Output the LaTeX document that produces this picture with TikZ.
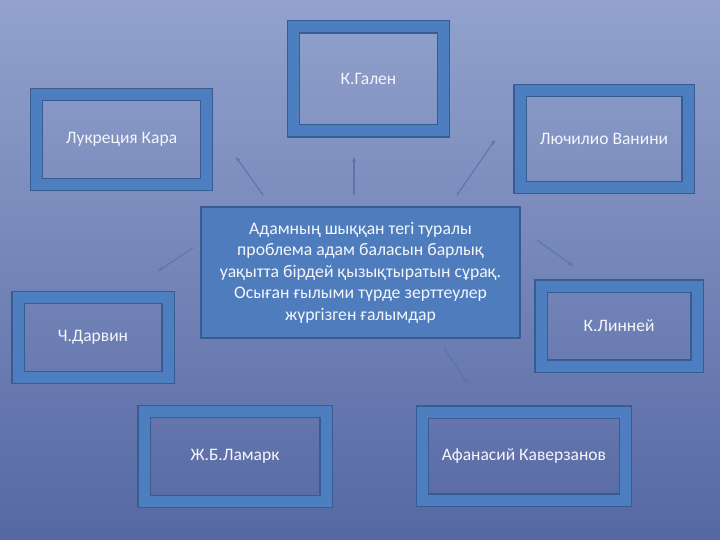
\documentclass[tikz,border=0pt]{standalone}
\usepackage{fontspec}
\setmainfont{Carlito}
\usetikzlibrary{arrows.meta}
\definecolor{bgtop}{RGB}{146,162,205}
\definecolor{bgbot}{RGB}{86,104,163}
\definecolor{band}{RGB}{76,126,192}
\definecolor{edge}{RGB}{56,92,145}
\definecolor{ctr}{RGB}{78,124,188}
\definecolor{txt}{RGB}{244,246,252}
\definecolor{conn}{RGB}{96,116,172}
\tikzset{
  namebox/.style={draw=edge, line width=1.3pt, double=band, double distance=11pt,
    inner sep=0pt, text=txt, font=\fontsize{17.5}{21}\selectfont},
  mainbox/.style={draw=edge, line width=1.5pt, fill=ctr, inner sep=0pt, text=txt,
    align=center, font=\fontsize{17.7}{21.5}\selectfont},
  conn/.style={draw=conn, line width=1.1pt, -{Stealth[length=5pt,width=4pt]}}
}
\begin{document}
\begin{tikzpicture}[x=1pt,y=-1pt]
\useasboundingbox (0,0) rectangle (720,540);
\shade[top color=bgtop, bottom color=bgbot] (0,0) rectangle (720,540);

\node[namebox, minimum width=150pt, minimum height=104pt] (galen) at (368.5,79) {К.Гален};
\node[namebox, minimum width=170pt, minimum height=90pt] (lucr) at (121.5,139.5) {Лукреция Кара};
\node[namebox, minimum width=168pt, minimum height=97pt] (vanini) at (604,139) {Лючилио Ванини};
\node[namebox, minimum width=150pt, minimum height=80pt] (darwin) at (93,337.5) {Ч.Дарвин};
\node[namebox, minimum width=156pt, minimum height=80pt] (linne) at (619,326) {К.Линней};
\node[namebox, minimum width=182pt, minimum height=90pt] (lamarck) at (235,456.5) {Ж.Б.Ламарк};
\node[namebox, minimum width=203pt, minimum height=88pt] (kaver) at (524,456) {Афанасий Каверзанов};

\node[mainbox, minimum width=319pt, minimum height=131pt] (center) at (360.5,272.5)
  {Адамның шыққан тегі туралы\\проблема адам баласын барлық\\уақытта бірдей қызықтыратын сұрақ.\\Осыған ғылыми түрде зерттеулер\\жүргізген ғалымдар};

\coordinate (a1) at (263,195); \coordinate (b1) at (236,157);
\coordinate (a2) at (354,195); \coordinate (b2) at (354,157);
\coordinate (a3) at (457,195); \coordinate (b3) at (495,140);
\coordinate (a4) at (193,248); \coordinate (b4) at (158,271);
\coordinate (a5) at (537,240); \coordinate (b5) at (573,266);
\coordinate (a6) at (444,348); \coordinate (b6) at (468,384);

\draw[conn] (a1) -- (b1);
\draw[conn] (a2) -- (b2);
\draw[conn] (a3) -- (b3);
\draw[conn] (a4) -- (b4);
\draw[conn] (a5) -- (b5);
\draw[conn, draw=conn!80!bgbot] (a6) -- (b6);
\end{tikzpicture}
\end{document}
